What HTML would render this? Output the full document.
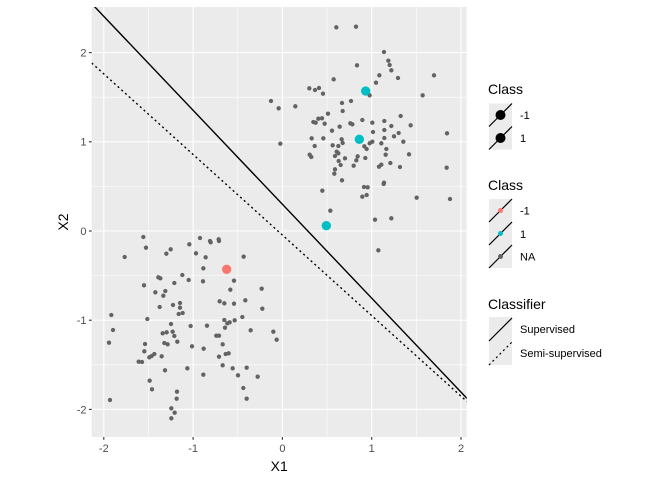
<!DOCTYPE html>
<html><head><meta charset="utf-8"><style>
body{margin:0;background:#fff;}
svg{display:block;font-family:"Liberation Sans",sans-serif;}
</style></head><body>
<svg width="672" height="480" viewBox="0 0 672 480">
<defs><clipPath id="pc"><rect x="91.7" y="7" width="375" height="430"/></clipPath></defs>
<rect x="91.7" y="7" width="375" height="430" fill="#EBEBEB"/>
<g stroke="#fff" stroke-width="0.55">
<line x1="148.5" y1="7" x2="148.5" y2="437"/><line x1="237.8" y1="7" x2="237.8" y2="437"/><line x1="327.1" y1="7" x2="327.1" y2="437"/><line x1="416.4" y1="7" x2="416.4" y2="437"/>
<line x1="91.7" y1="97.2" x2="466.7" y2="97.2"/><line x1="91.7" y1="186.4" x2="466.7" y2="186.4"/><line x1="91.7" y1="275.6" x2="466.7" y2="275.6"/><line x1="91.7" y1="364.8" x2="466.7" y2="364.8"/>
</g>
<g stroke="#fff" stroke-width="1.1">
<line x1="103.8" y1="7" x2="103.8" y2="437"/><line x1="193.1" y1="7" x2="193.1" y2="437"/><line x1="282.4" y1="7" x2="282.4" y2="437"/><line x1="371.7" y1="7" x2="371.7" y2="437"/><line x1="461" y1="7" x2="461" y2="437"/>
<line x1="91.7" y1="52.6" x2="466.7" y2="52.6"/><line x1="91.7" y1="141.8" x2="466.7" y2="141.8"/><line x1="91.7" y1="231" x2="466.7" y2="231"/><line x1="91.7" y1="320.2" x2="466.7" y2="320.2"/><line x1="91.7" y1="409.4" x2="466.7" y2="409.4"/>
</g>
<g clip-path="url(#pc)">
<g fill="#636363" transform="translate(270,15) scale(0.33333)">
<circle cx="199" cy="37" r="6.5"/><circle cx="258" cy="35" r="6.5"/><circle cx="342" cy="111" r="6.5"/><circle cx="355" cy="137" r="6.5"/><circle cx="359" cy="150" r="6.5"/><circle cx="364" cy="166" r="6.5"/><circle cx="261" cy="151" r="6.5"/><circle cx="328" cy="181" r="6.5"/><circle cx="384" cy="189" r="6.5"/><circle cx="492" cy="181" r="6.5"/><circle cx="191" cy="193" r="6.5"/><circle cx="318" cy="203" r="6.5"/><circle cx="118" cy="220" r="6.5"/><circle cx="135" cy="225" r="6.5"/><circle cx="147" cy="219" r="6.5"/><circle cx="159" cy="236" r="6.5"/><circle cx="299" cy="241" r="6.5"/><circle cx="458" cy="241" r="6.5"/><circle cx="3" cy="258" r="6.5"/><circle cx="26" cy="280" r="6.5"/><circle cx="76" cy="274" r="6.5"/><circle cx="216" cy="264" r="6.5"/><circle cx="243" cy="258" r="6.5"/><circle cx="218" cy="288" r="6.5"/><circle cx="174" cy="296" r="6.5"/><circle cx="392" cy="303" r="6.5"/><circle cx="130" cy="321" r="6.5"/><circle cx="137" cy="323" r="6.5"/><circle cx="145" cy="311" r="6.5"/><circle cx="156" cy="310" r="6.5"/><circle cx="164" cy="326" r="6.5"/><circle cx="241" cy="325" r="6.5"/><circle cx="247" cy="328" r="6.5"/><circle cx="277" cy="315" r="6.5"/><circle cx="307" cy="323" r="6.5"/><circle cx="343" cy="318" r="6.5"/><circle cx="364" cy="333" r="6.5"/><circle cx="422" cy="331" r="6.5"/><circle cx="209" cy="335" r="6.5"/><circle cx="186" cy="347" r="6.5"/><circle cx="309" cy="351" r="6.5"/><circle cx="343" cy="345" r="6.5"/><circle cx="386" cy="354" r="6.5"/><circle cx="372" cy="364" r="6.5"/><circle cx="531" cy="355" r="6.5"/><circle cx="125" cy="370" r="6.5"/><circle cx="160" cy="370" r="6.5"/><circle cx="215" cy="373" r="6.5"/><circle cx="218" cy="384" r="6.5"/><circle cx="343" cy="369" r="6.5"/><circle cx="334" cy="385" r="6.5"/><circle cx="307" cy="380" r="6.5"/><circle cx="299" cy="385" r="6.5"/><circle cx="400" cy="380" r="6.5"/><circle cx="31" cy="386" r="6.5"/><circle cx="134" cy="393" r="6.5"/><circle cx="188" cy="391" r="6.5"/><circle cx="205" cy="393" r="6.5"/><circle cx="283" cy="394" r="6.5"/><circle cx="290" cy="402" r="6.5"/><circle cx="349" cy="402" r="6.5"/><circle cx="200" cy="410" r="6.5"/><circle cx="205" cy="415" r="6.5"/><circle cx="195" cy="423" r="6.5"/><circle cx="225" cy="430" r="6.5"/><circle cx="263" cy="424" r="6.5"/><circle cx="259" cy="436" r="6.5"/><circle cx="286" cy="429" r="6.5"/><circle cx="347" cy="419" r="6.5"/><circle cx="417" cy="418" r="6.5"/><circle cx="119" cy="419" r="6.5"/><circle cx="124" cy="426" r="6.5"/><circle cx="206" cy="438" r="6.5"/><circle cx="212" cy="450" r="6.5"/><circle cx="251" cy="452" r="6.5"/><circle cx="361" cy="444" r="6.5"/><circle cx="334" cy="449" r="6.5"/><circle cx="327" cy="455" r="6.5"/><circle cx="390" cy="456" r="6.5"/><circle cx="530" cy="458" r="6.5"/><circle cx="195" cy="463" r="6.5"/><circle cx="193" cy="476" r="6.5"/><circle cx="216" cy="496" r="6.5"/><circle cx="342" cy="503" r="6.5"/><circle cx="341" cy="507" r="6.5"/><circle cx="282" cy="516" r="6.5"/><circle cx="293" cy="517" r="6.5"/><circle cx="277" cy="545" r="6.5"/><circle cx="290" cy="540" r="6.5"/><circle cx="440" cy="548" r="6.5"/><circle cx="540" cy="552" r="6.5"/><circle cx="157" cy="527" r="6.5"/><circle cx="181" cy="587" r="6.5"/><circle cx="315" cy="614" r="6.5"/><circle cx="364" cy="610" r="6.5"/><circle cx="325" cy="706" r="6.5"/>
<g fill="#00BFC4"><circle cx="287" cy="228" r="14"/><circle cx="268" cy="373" r="14"/><circle cx="169" cy="632" r="14"/></g>
</g>
<g fill="#636363" transform="translate(95,225) scale(0.33333)">
<circle cx="145" cy="36" r="6.5"/><circle cx="153" cy="68" r="6.5"/><circle cx="89" cy="96" r="6.5"/><circle cx="214" cy="86" r="6.5"/><circle cx="227" cy="73" r="6.5"/><circle cx="283" cy="58" r="6.5"/><circle cx="315" cy="39" r="6.5"/><circle cx="345" cy="48" r="6.5"/><circle cx="347" cy="52" r="6.5"/><circle cx="371" cy="43" r="6.5"/><circle cx="372" cy="48" r="6.5"/><circle cx="303" cy="85" r="6.5"/><circle cx="332" cy="97" r="6.5"/><circle cx="446" cy="95" r="6.5"/><circle cx="325" cy="130" r="6.5"/><circle cx="190" cy="157" r="6.5"/><circle cx="196" cy="160" r="6.5"/><circle cx="262" cy="150" r="6.5"/><circle cx="281" cy="165" r="6.5"/><circle cx="324" cy="169" r="6.5"/><circle cx="417" cy="167" r="6.5"/><circle cx="147" cy="181" r="6.5"/><circle cx="238" cy="174" r="6.5"/><circle cx="181" cy="202" r="6.5"/><circle cx="211" cy="198" r="6.5"/><circle cx="205" cy="212" r="6.5"/><circle cx="406" cy="194" r="6.5"/><circle cx="500" cy="191" r="6.5"/><circle cx="374" cy="229" r="6.5"/><circle cx="388" cy="235" r="6.5"/><circle cx="417" cy="236" r="6.5"/><circle cx="451" cy="226" r="6.5"/><circle cx="194" cy="246" r="6.5"/><circle cx="234" cy="240" r="6.5"/><circle cx="255" cy="234" r="6.5"/><circle cx="255" cy="248" r="6.5"/><circle cx="251" cy="267" r="6.5"/><circle cx="263" cy="264" r="6.5"/><circle cx="502" cy="251" r="6.5"/><circle cx="49" cy="270" r="6.5"/><circle cx="157" cy="282" r="6.5"/><circle cx="388" cy="285" r="6.5"/><circle cx="397" cy="295" r="6.5"/><circle cx="404" cy="292" r="6.5"/><circle cx="419" cy="286" r="6.5"/><circle cx="442" cy="276" r="6.5"/><circle cx="228" cy="297" r="6.5"/><circle cx="287" cy="303" r="6.5"/><circle cx="336" cy="302" r="6.5"/><circle cx="390" cy="308" r="6.5"/><circle cx="54" cy="315" r="6.5"/><circle cx="203" cy="325" r="6.5"/><circle cx="215" cy="322" r="6.5"/><circle cx="233" cy="320" r="6.5"/><circle cx="238" cy="333" r="6.5"/><circle cx="467" cy="316" r="6.5"/><circle cx="535" cy="320" r="6.5"/><circle cx="545" cy="344" r="6.5"/><circle cx="42" cy="353" r="6.5"/><circle cx="150" cy="357" r="6.5"/><circle cx="208" cy="354" r="6.5"/><circle cx="218" cy="358" r="6.5"/><circle cx="247" cy="350" r="6.5"/><circle cx="364" cy="332" r="6.5"/><circle cx="372" cy="332" r="6.5"/><circle cx="383" cy="358" r="6.5"/><circle cx="291" cy="364" r="6.5"/><circle cx="326" cy="371" r="6.5"/><circle cx="148" cy="379" r="6.5"/><circle cx="178" cy="387" r="6.5"/><circle cx="163" cy="397" r="6.5"/><circle cx="170" cy="393" r="6.5"/><circle cx="200" cy="394" r="6.5"/><circle cx="372" cy="395" r="6.5"/><circle cx="392" cy="387" r="6.5"/><circle cx="401" cy="385" r="6.5"/><circle cx="131" cy="410" r="6.5"/><circle cx="141" cy="411" r="6.5"/><circle cx="210" cy="436" r="6.5"/><circle cx="277" cy="430" r="6.5"/><circle cx="383" cy="421" r="6.5"/><circle cx="413" cy="430" r="6.5"/><circle cx="455" cy="428" r="6.5"/><circle cx="325" cy="449" r="6.5"/><circle cx="429" cy="451" r="6.5"/><circle cx="488" cy="455" r="6.5"/><circle cx="164" cy="467" r="6.5"/><circle cx="171" cy="493" r="6.5"/><circle cx="246" cy="500" r="6.5"/><circle cx="245" cy="521" r="6.5"/><circle cx="445" cy="489" r="6.5"/><circle cx="455" cy="521" r="6.5"/><circle cx="45" cy="525" r="6.5"/><circle cx="229" cy="550" r="6.5"/><circle cx="239" cy="563" r="6.5"/><circle cx="229" cy="580" r="6.5"/>
<circle cx="395" cy="133" r="14" fill="#F8766D"/>
</g>
<line x1="93" y1="5" x2="468" y2="399.5" stroke="#000" stroke-width="1.4"/>
<line x1="91.7" y1="63" x2="468" y2="402.5" stroke="#000" stroke-width="1.4" stroke-dasharray="2,3"/>
</g>
<g stroke="#333" stroke-width="1.1">
<line x1="88.9" y1="52.6" x2="91.7" y2="52.6"/><line x1="88.9" y1="141.8" x2="91.7" y2="141.8"/><line x1="88.9" y1="231" x2="91.7" y2="231"/><line x1="88.9" y1="320.2" x2="91.7" y2="320.2"/><line x1="88.9" y1="409.4" x2="91.7" y2="409.4"/>
<line x1="103.8" y1="437" x2="103.8" y2="439.8"/><line x1="193.1" y1="437" x2="193.1" y2="439.8"/><line x1="282.4" y1="437" x2="282.4" y2="439.8"/><line x1="371.7" y1="437" x2="371.7" y2="439.8"/><line x1="461" y1="437" x2="461" y2="439.8"/>
</g>
<g fill="#4D4D4D" font-size="11" text-anchor="end">
<text x="86.5" y="56.5">2</text><text x="86.5" y="145.7">1</text><text x="86.5" y="234.9">0</text><text x="86.5" y="324.1">-1</text><text x="86.5" y="413.3">-2</text>
</g>
<g fill="#4D4D4D" font-size="11" text-anchor="middle">
<text x="103.8" y="452">-2</text><text x="193.1" y="452">-1</text><text x="282.4" y="452">0</text><text x="371.7" y="452">1</text><text x="461" y="452">2</text>
</g>
<text x="279.2" y="471" font-size="14" text-anchor="middle">X1</text>
<text transform="translate(68,222) rotate(-90)" font-size="14" text-anchor="middle">X2</text>
<g font-size="14"><text x="488" y="94">Class</text><text x="488" y="190">Class</text><text x="488" y="309">Classifier</text></g>
<g font-size="11">
<text x="520" y="119">-1</text><text x="520" y="142">1</text>
<text x="520" y="214.5">-1</text><text x="520" y="238">1</text><text x="520" y="260.5">NA</text>
<text x="520" y="333">Supervised</text><text x="520" y="357">Semi-supervised</text>
</g>
<g fill="#EBEBEB">
<rect x="489" y="103.5" width="23" height="46"/>
<rect x="489" y="199" width="23" height="69"/>
<rect x="489" y="317" width="23" height="48"/>
</g>
<g stroke="#000" stroke-width="1.2">
<line x1="489" y1="126.5" x2="512" y2="103.5"/><line x1="489" y1="149.5" x2="512" y2="126.5"/>
<line x1="489" y1="222" x2="512" y2="199"/><line x1="489" y1="245" x2="512" y2="222"/><line x1="489" y1="268" x2="512" y2="245"/>
<line x1="489" y1="341" x2="512" y2="318"/>
<line x1="489" y1="365" x2="512" y2="342" stroke-dasharray="2,3"/>
</g>
<circle cx="500.5" cy="115" r="5" fill="#000"/><circle cx="500.5" cy="138" r="5" fill="#000"/>
<circle cx="500.5" cy="210.5" r="2.5" fill="#F8766D"/><circle cx="500.5" cy="233.5" r="2.5" fill="#00BFC4"/><circle cx="500.5" cy="256.5" r="2.5" fill="#636363"/>
</svg>
</body></html>
